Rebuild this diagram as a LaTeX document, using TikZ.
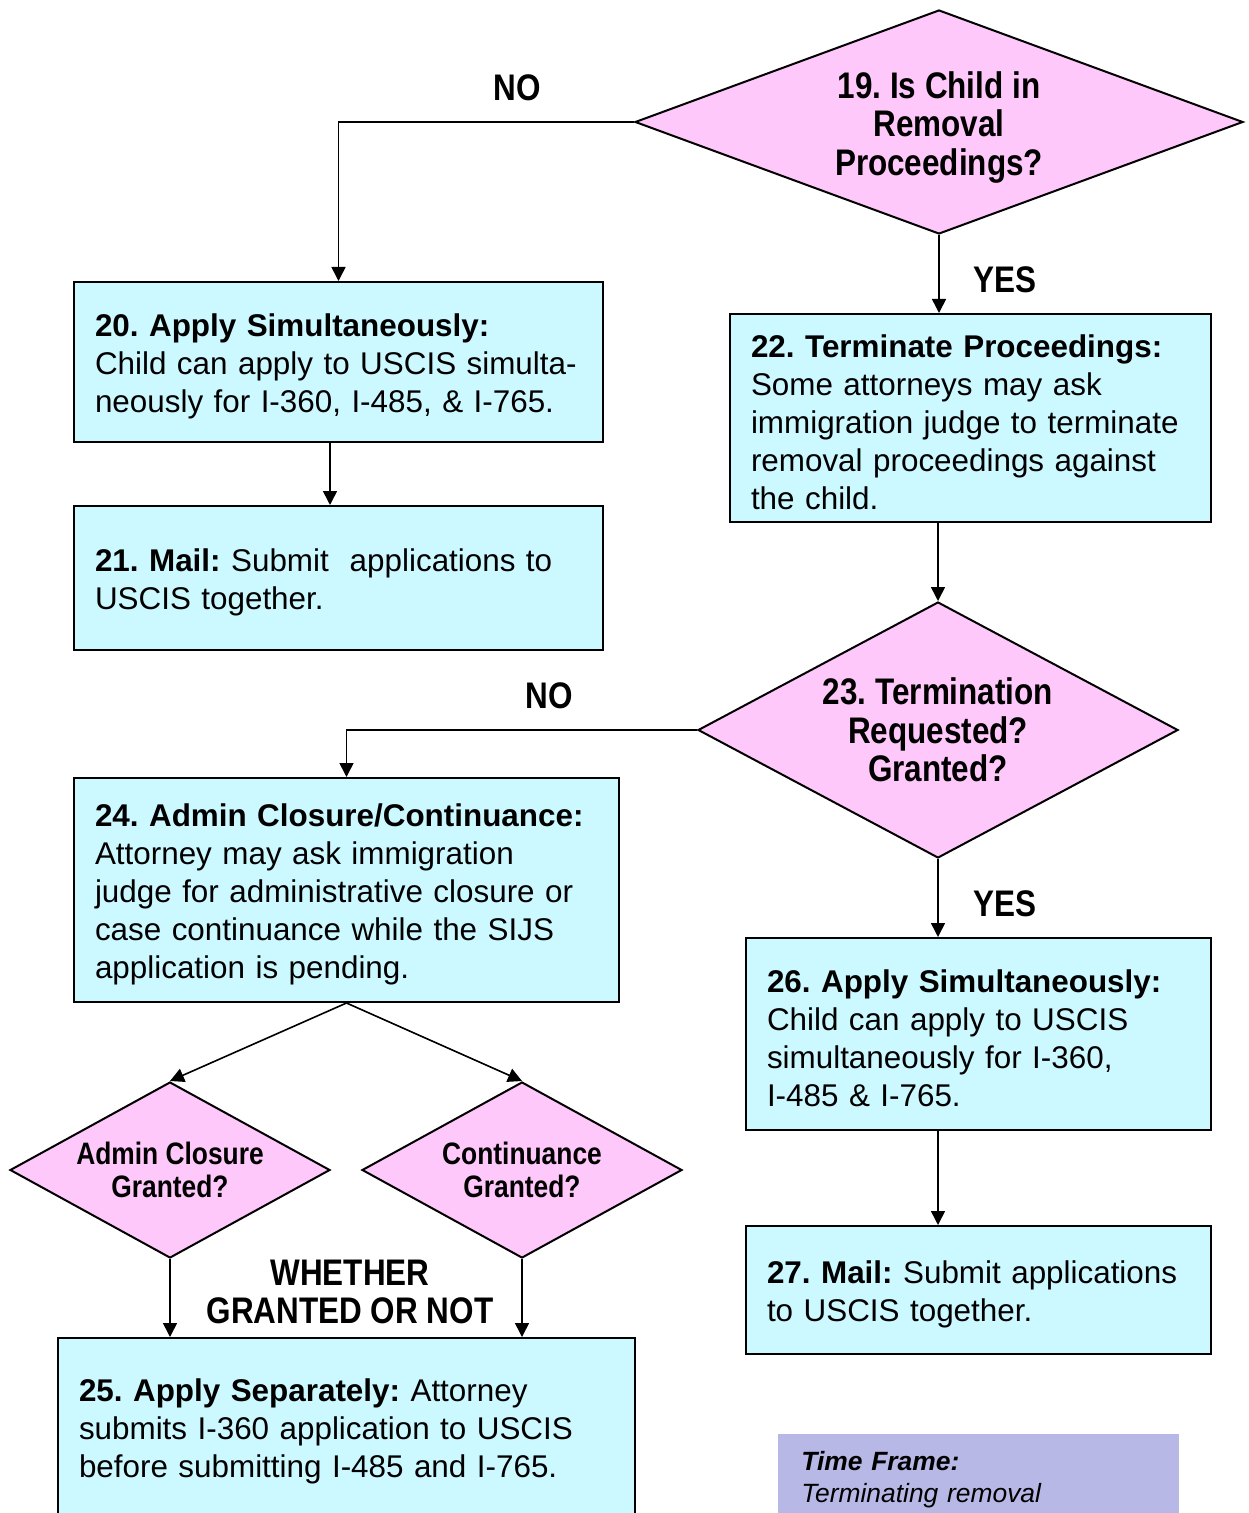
\documentclass[tikz,border=0pt]{standalone}
\usepackage{fontspec}
\setmainfont{Liberation Sans}
\newfontfamily\narrowfont[FakeStretch=0.85]{Liberation Sans}
\usetikzlibrary{shapes.geometric,arrows.meta}
\definecolor{boxcyan}{HTML}{CCF8FF}
\definecolor{askpink}{HTML}{FFC8FA}
\definecolor{framelilac}{HTML}{B8B8E6}
\frenchspacing
\hyphenpenalty=10000
\begin{document}
\begin{tikzpicture}[x=0.5pt,y=-0.5pt,
    stepbox/.style={draw,line width=1pt,fill=boxcyan,align=left,inner xsep=10.5pt,
      font=\fontsize{15.7}{19}\selectfont,execute at begin node={\rule{0pt}{15.5pt}}},
    askbox/.style={draw,line width=1pt,fill=askpink,diamond,inner sep=0pt,align=center,
      font=\narrowfont\bfseries\fontsize{18.5}{19.25}\selectfont},
    smallask/.style={askbox,font=\narrowfont\bfseries\fontsize{15.5}{16.5}\selectfont},
    answer/.style={align=center,font=\narrowfont\bfseries\fontsize{18.5}{19.25}\selectfont},
    link/.style={line width=0.8pt,-{Triangle[length=7pt,width=7pt]}}]
      \useasboundingbox (0,0) rectangle (1248,1513);
      %\draw [help lines] (0,0) grid[step=100] (1248,1513);
      \node[askbox,aspect=2.714,minimum width=304pt,minimum height=112pt] (inremoval) at (939,122)
        {\rule{0pt}{18.5pt}19. Is Child in\\ Removal\\ Proceedings?};
      \node[stepbox,minimum width=264.5pt,text width=243.5pt,minimum height=80pt] (applysim) at (338.5,362)
        {\textbf{20. Apply Simultaneously:}\\ Child can apply to USCIS simulta-\\ neously for I-360, I-485, \& I-765.};
      \node[stepbox,minimum width=264.5pt,text width=243.5pt,minimum height=72pt] (mail) at (338.5,578)
        {\textbf{21. Mail:} Submit\ \ applications to\\ USCIS together.};
      \node[stepbox,minimum width=240.5pt,text width=219.5pt,minimum height=104pt] (terminate) at (970.5,418)
        {\textbf{22. Terminate Proceedings:}\\ Some attorneys may ask\\ immigration judge to terminate\\ removal proceedings against\\ the child.};
      \node[askbox,aspect=1.875,minimum width=240pt,minimum height=128pt] (termgranted) at (938,730)
        {23. Termination\\ Requested?\\ Granted?};
      \node[stepbox,minimum width=272.5pt,text width=251.5pt,minimum height=112pt] (closure) at (346.5,890)
        {\textbf{24. Admin Closure/Continuance:}\\ Attorney may ask immigration\\ judge for administrative closure or\\ case continuance while the SIJS\\ application is pending.};
      \node[smallask,aspect=1.818,minimum width=160pt,minimum height=88pt] (closuregranted) at (170,1170)
        {Admin Closure\\ Granted?};
      \node[smallask,aspect=1.818,minimum width=160pt,minimum height=88pt] (contgranted) at (522,1170)
        {Continuance\\ Granted?};
      \node[stepbox,minimum width=288.5pt,text width=267.5pt,minimum height=89pt] (applysep) at (346.5,1427)
        {\textbf{25. Apply Separately:} Attorney\\ submits I-360 application to USCIS\\ before submitting I-485 and I-765.};
      \node[stepbox,minimum width=232.5pt,text width=211.5pt,minimum height=96pt] (applysim2) at (978.5,1034)
        {\textbf{26. Apply Simultaneously:}\\ Child can apply to USCIS\\ simultaneously for I-360,\\ I-485 \& I-765.};
      \node[stepbox,minimum width=232.5pt,text width=211.5pt,minimum height=64pt] (mail2) at (978.5,1290)
        {\textbf{27. Mail:} Submit applications\\ to USCIS together.};
      \node[fill=framelilac,anchor=north west,minimum width=200.5pt,text width=177.5pt,
        inner xsep=11.5pt,inner ysep=8.5pt,align=left,
        font=\itshape\fontsize{13.2}{16}\selectfont] (timeframe) at (778,1434)
        {\textbf{Time Frame:}\\ Terminating removal\strut};

      \node[answer] (no1) at (517,88) {NO};
      \node[answer] (yes1) at (1005,280) {YES};
      \node[answer] (no2) at (549,696) {NO};
      \node[answer] (yes2) at (1005,904) {YES};
      \node[answer] (whether) at (350,1292) {WHETHER\\ GRANTED OR NOT};

      \draw[link] (inremoval.west) -| (applysim.north);
      \draw[link] (inremoval.south) -- (inremoval.south |- terminate.north);
      \draw[link] ([xshift=-4.25pt]applysim.south) -- ([xshift=-4.25pt]mail.north);
      \draw[link] (termgranted.north |- terminate.south) -- (termgranted.north);
      \draw[link] (termgranted.west) -| (closure.north);
      \draw[link] (termgranted.south) -- (termgranted.south |- applysim2.north);
      \draw[link] (closure.south) -- (closuregranted.north);
      \draw[link] (closure.south) -- (contgranted.north);
      \draw[link] (closuregranted.south) -- (closuregranted.south |- applysep.north);
      \draw[link] (contgranted.south) -- (contgranted.south |- applysep.north);
      \draw[link] (termgranted.south |- applysim2.south) -- (termgranted.south |- mail2.north);
    \end{tikzpicture}
\end{document}
